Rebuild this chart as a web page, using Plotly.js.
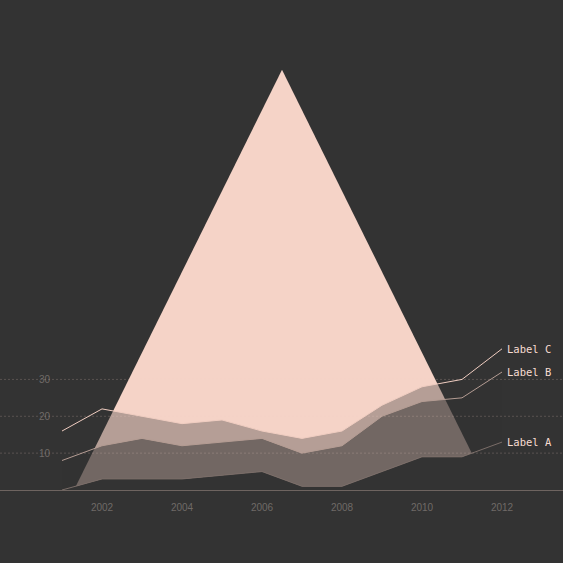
<!DOCTYPE html>
<html>
<head>
<meta charset="utf-8">
<script src="https://cdn.plot.ly/plotly-3.0.1.min.js"></script>
<style>
  html, body { margin: 0; padding: 0; background: #333333; }
  #chart { width: 563px; height: 563px; }
</style>
</head>
<body>
<div id="chart"></div>
<script>
// ---- data ----
const years   = [2001, 2002, 2003, 2004, 2005, 2006, 2007, 2008, 2009, 2010, 2011, 2012];
const seriesA = [0, 3, 3, 3, 4, 5, 1, 1, 5, 9, 9, 13];
const seriesB = [8, 12, 14, 12, 13, 14, 10, 12, 20, 24, 25, 32];
const seriesC = [16, 22, 20, 18, 19, 16, 14, 16, 23, 28, 30, 38.3];
const labels  = ["Label A", "Label B", "Label C"];
const triangleX = [2001.3, 2006.5, 2011.7];
const triangleY = [0, 114, 0];
const xTicks = [2002, 2004, 2006, 2008, 2010, 2012];
const yTicks = [10, 20, 30];

// ---- styles ----
const BG = "#333333";
const PINK = "#f5d3c7";
const lineColors = ["#7a6d68", "#b49c93", "#f0cdc1"];
const TICK = "#6f6a67";

const traces = [
  { x: triangleX, y: triangleY, type: "scatter", mode: "lines", fill: "toself",
    fillcolor: PINK, line: { width: 0, color: PINK }, hoverinfo: "skip" },
  { x: years, y: seriesA, type: "scatter", mode: "lines", fill: "tozeroy",
    fillcolor: "rgba(51,51,51,1)", line: { width: 1, color: lineColors[0] }, hoverinfo: "skip" },
  { x: years, y: seriesB, type: "scatter", mode: "lines", fill: "tonexty",
    fillcolor: "rgba(51,51,51,0.675)", line: { width: 1, color: lineColors[1] }, hoverinfo: "skip" },
  { x: years, y: seriesC, type: "scatter", mode: "lines", fill: "tonexty",
    fillcolor: "rgba(51,51,51,0.33)", line: { width: 1, color: lineColors[2] }, hoverinfo: "skip" }
];

const ends = [seriesA, seriesB, seriesC].map(s => s[s.length - 1]);
const annotations = labels.map((t, i) => ({
  x: years[years.length - 1], y: ends[i], xref: "x", yref: "y",
  text: t, showarrow: false, xanchor: "left", yanchor: "middle", xshift: 3,
  font: { family: "DejaVu Sans Mono, monospace", size: 10.5, color: "#f7dcd2" }
}));

const shapes = yTicks.map(v => ({
  type: "line", xref: "paper", x0: 0, x1: 1, yref: "y", y0: v, y1: v,
  layer: "above",
  line: { color: "rgba(245,211,199,0.2)", width: 1, dash: "2px,2px" }
}));

const layout = {
  width: 563, height: 563,
  paper_bgcolor: BG, plot_bgcolor: BG,
  margin: { l: 0, r: 0, t: 20, b: 73 },
  showlegend: false,
  xaxis: {
    range: [1999.45, 2013.525], tickvals: xTicks, ticktext: xTicks.map(String),
    showgrid: false, zeroline: false, showline: true, linecolor: "#6e6460", linewidth: 1,
    ticks: "", ticklabelstandoff: 8,
    tickfont: { family: "Liberation Sans, Arial, sans-serif", size: 10, color: TICK }
  },
  yaxis: {
    range: [0, 127.5], tickvals: yTicks, ticktext: yTicks.map(String),
    showgrid: false, zeroline: false, showline: false, ticks: "",
    ticklabelposition: "inside", ticklabelstandoff: 36,
    tickfont: { family: "Liberation Sans, Arial, sans-serif", size: 10, color: TICK }
  },
  shapes: shapes,
  annotations: annotations
};

Plotly.newPlot("chart", traces, layout, { staticPlot: true, displayModeBar: false });
</script>
</body>
</html>
